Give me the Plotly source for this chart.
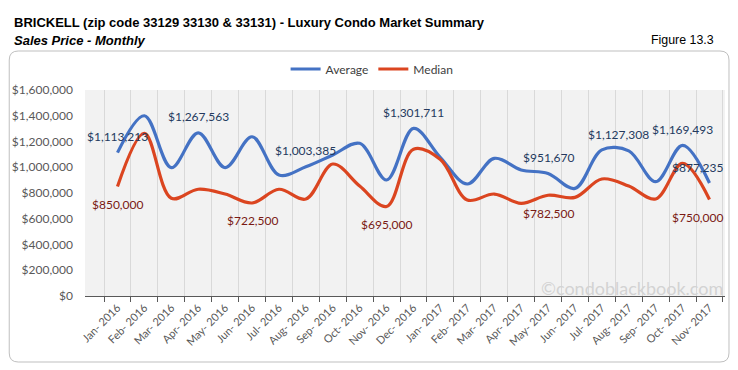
import plotly.graph_objects as go

months = ["Jan- 2016", "Feb- 2016", "Mar- 2016", "Apr- 2016", "May- 2016", "Jun- 2016",
          "Jul- 2016", "Aug- 2016", "Sep- 2016", "Oct- 2016", "Nov- 2016", "Dec- 2016",
          "Jan- 2017", "Feb- 2017", "Mar- 2017", "Apr- 2017", "May- 2017", "Jun- 2017",
          "Jul- 2017", "Aug- 2017", "Sep- 2017", "Oct- 2017", "Nov- 2017"]
average = [1113213, 1400000, 997000, 1267563, 997000, 1237000, 940000, 1003385, 1095000,
           1186000, 901000, 1301711, 1075000, 870000, 1069000, 979000, 951670, 836000,
           1135000, 1127308, 888000, 1169493, 877235]
median = [850000, 1264000, 759000, 829000, 792000, 722500, 829000, 753000, 1025000,
          854000, 695000, 1140000, 1060000, 746000, 792000, 720000, 782500, 766000,
          909000, 854000, 753000, 1030000, 750000]
avg_labeled = [0, 3, 7, 11, 16, 19, 21, 22]
med_labeled = [0, 5, 10, 16, 22]
y_ticks = [0, 200000, 400000, 600000, 800000, 1000000, 1200000, 1400000, 1600000]

W, H = 738, 370
L, R, T, B = 83, 725, 90, 296

def px(x):
    return (x - L) / (R - L)

def py(y):
    return (B - y) / (B - T)

FONT = "Lato, 'Liberation Sans', Arial, sans-serif"
NARROW = "'Liberation Sans', Arial, sans-serif"

fig = go.Figure()
fig.add_trace(go.Scatter(x=months, y=average, name="Average", mode="lines",
                         line=dict(color="#4472C4", width=3.2, shape="spline", smoothing=1)))
fig.add_trace(go.Scatter(x=months, y=median, name="Median", mode="lines",
                         line=dict(color="#DB4520", width=3.2, shape="spline", smoothing=1)))

ann = []
for i in avg_labeled:
    xs = -12 if i == len(months) - 1 else (-10 if i == 19 else 0)
    ann.append(dict(x=months[i], y=average[i], xref="x", yref="y", text="${:,}".format(average[i]),
                    showarrow=False, yshift=16, xshift=xs,
                    font=dict(family=FONT, size=12, color="#243A5E")))
for i in med_labeled:
    xs = -12 if i == len(months) - 1 else 0
    ann.append(dict(x=months[i], y=median[i], xref="x", yref="y", text="${:,}".format(median[i]),
                    showarrow=False, yshift=-18, xshift=xs,
                    font=dict(family=FONT, size=12, color="#7A1A14")))

ann.append(dict(x=px(10), y=py(23), xref="paper", yref="paper", xanchor="left", yanchor="middle",
                text="<b>BRICKELL (zip code 33129 33130 & 33131) - Luxury Condo Market Summary</b>",
                showarrow=False, font=dict(family=NARROW, size=13, color="#000000")))
ann.append(dict(x=px(10), y=py(40), xref="paper", yref="paper", xanchor="left", yanchor="middle",
                text="<b><i>Sales Price - Monthly</i></b>",
                showarrow=False, font=dict(family=NARROW, size=13, color="#000000")))
ann.append(dict(x=px(716), y=py(40), xref="paper", yref="paper", xanchor="right", yanchor="middle",
                text="Figure 13.3",
                showarrow=False, font=dict(family=NARROW, size=12.4, color="#000000")))
ann.append(dict(x=1, y=py(288), xref="paper", yref="paper", xanchor="right", yanchor="middle",
                text="©condoblackbook.com",
                showarrow=False, font=dict(family=FONT, size=18, color="#D3D3D3")))

# rounded border
x0, x1 = px(7), px(729)
yt, yb = py(51), py(362)
rx, ry = 9 / (R - L), 9 / (B - T)
path = (f"M {x0+rx},{yt} L {x1-rx},{yt} Q {x1},{yt} {x1},{yt-ry} L {x1},{yb+ry} "
        f"Q {x1},{yb} {x1-rx},{yb} L {x0+rx},{yb} Q {x0},{yb} {x0},{yb+ry} "
        f"L {x0},{yt-ry} Q {x0},{yt} {x0+rx},{yt} Z")
shapes = [dict(type="path", path=path, xref="paper", yref="paper",
               line=dict(color="#BFBFBF", width=1), layer="below")]

fig.update_layout(
    width=W, height=H, autosize=False,
    margin=dict(l=L, r=W - R, t=T, b=H - B, pad=0),
    paper_bgcolor="white", plot_bgcolor="#F2F2F2",
    font=dict(family=FONT, size=11, color="#595959"),
    showlegend=True,
    legend=dict(orientation="h", x=px(371), xanchor="center", y=py(69), yanchor="middle",
                font=dict(family=FONT, size=12, color="#404040"), bgcolor="rgba(0,0,0,0)",
                itemwidth=30, tracegroupgap=0),
    annotations=ann, shapes=shapes,
    xaxis=dict(type="category", tickson="boundaries", showgrid=True, gridcolor="#D9D9D9",
               gridwidth=1, tickangle=-45, ticks="outside", ticklen=5, tickcolor="#595959",
               showline=True, linecolor="#595959", linewidth=1.3, zeroline=False,
               tickfont=dict(family=FONT, size=11, color="#595959"), fixedrange=True),
    yaxis=dict(range=[0, 1600000], tickvals=y_ticks, tickformat="$,.0f", showgrid=False,
               zeroline=False, showline=False, ticks="", ticklabelstandoff=11,
               tickfont=dict(family=FONT, size=12, color="#595959"), fixedrange=True),
)

fig.write_html("out.html", config={"displayModeBar": False},
               post_script="document.body.style.margin='0';document.body.style.padding='0';")
